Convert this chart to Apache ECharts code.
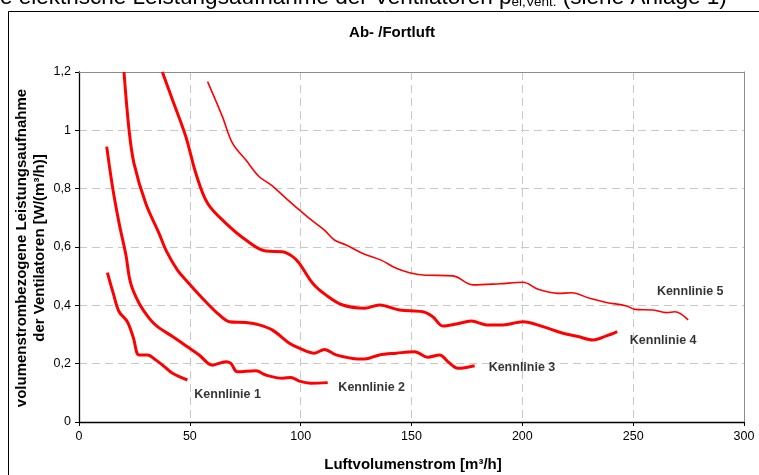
<!DOCTYPE html>
<html>
<head>
<meta charset="utf-8">
<script src="https://cdn.jsdelivr.net/npm/echarts@6/dist/echarts.min.js"></script>
<style>html,body{margin:0;padding:0;background:#fff}#c{width:759px;height:475px}</style>
</head>
<body>
<div id="c"></div>
<script>
// ---- data ----
const chartTitle = 'Ab- /Fortluft';
const xAxisName = 'Luftvolumenstrom [m³/h]';
const yAxisNameLines = ['volumenstrombezogene Leistungsaufnahme', 'der Ventilatoren [W/(m³/h)]'];
const xTicks = [0, 50, 100, 150, 200, 250, 300];
const yTicks = [0, 0.2, 0.4, 0.6, 0.8, 1.0, 1.2];
const seriesNames = ['Kennlinie 1', 'Kennlinie 2', 'Kennlinie 3', 'Kennlinie 4', 'Kennlinie 5'];

const kennlinie1 = [[12.8,0.512],[15.5,0.44],[18.1,0.378],[21.8,0.344],[24.5,0.29],[27.1,0.23],[30.9,0.23],[34.6,0.213],[38.5,0.19],[42.2,0.167],[48.9,0.144]];
const kennlinie2 = [[12.5,0.944],[15.1,0.807],[18.1,0.681],[21.1,0.575],[23.3,0.476],[27.1,0.407],[31.6,0.356],[35.4,0.327],[42.2,0.293],[48.9,0.258],[54.2,0.23],[60.2,0.195],[66.3,0.207],[68.5,0.201],[71.5,0.172],[79.8,0.176],[84.3,0.161],[91.9,0.15],[95.6,0.153],[99.4,0.14],[104.5,0.133],[112.2,0.135]];
const kennlinie3 = [[20.3,1.2],[22.6,1.0],[24.8,0.887],[30.1,0.75],[36.1,0.647],[39.5,0.585],[44.5,0.52],[48.9,0.481],[57.2,0.412],[63.3,0.367],[67.8,0.344],[75.3,0.341],[81.3,0.333],[87.3,0.315],[94.9,0.27],[99.4,0.253],[106.2,0.236],[110.7,0.249],[116,0.23],[123.5,0.218],[128.8,0.216],[135.5,0.23],[143.1,0.236],[151.4,0.241],[157.4,0.222],[162.7,0.23],[166.4,0.207],[171,0.184],[174.7,0.187],[178.5,0.193]];
const kennlinie4 = [[37.6,1.2],[42.2,1.104],[48.2,0.978],[52.7,0.853],[58.0,0.75],[66.3,0.681],[75.3,0.624],[84.3,0.586],[91.9,0.584],[96.4,0.567],[99.4,0.544],[105.4,0.476],[111.5,0.435],[119,0.401],[128.8,0.39],[135.5,0.401],[144.6,0.384],[155.1,0.378],[159.6,0.361],[164.1,0.329],[170.2,0.336],[177,0.346],[183.8,0.333],[191.3,0.333],[200.3,0.344],[209.3,0.327],[217.6,0.306],[225.1,0.293],[231.9,0.281],[237.9,0.295],[242.8,0.31]];
const kennlinie5 = [[58.0,1.167],[64.7,1.047],[69.3,0.955],[75.3,0.898],[81.3,0.841],[86.6,0.813],[93.4,0.767],[99.4,0.727],[103.9,0.698],[110.7,0.658],[115.2,0.624],[120.5,0.607],[128,0.578],[136.3,0.555],[143.1,0.527],[149.1,0.512],[155.1,0.504],[168.7,0.501],[177.7,0.47],[189.8,0.474],[200.3,0.479],[207.1,0.455],[216.1,0.441],[222.2,0.443],[230.4,0.424],[237.9,0.41],[247,0.398],[250.8,0.386],[259,0.384],[265,0.375],[268.8,0.378],[274.8,0.35]];
const curves = [kennlinie1, kennlinie2, kennlinie3, kennlinie4, kennlinie5];
// label anchor positions (left edge of each label)
const labelPos = [[52,0.093],[117,0.117],[184.8,0.187],[248.5,0.278],[260.7,0.446]];

// ---- chart ----
const chart = echarts.init(document.getElementById('c'), null, {renderer: 'canvas'});
const FONT = 'Liberation Sans, Arial, sans-serif';
const lineWidths = [3, 3, 3, 3, 1.6];
const series = curves.map((d, i) => ({
  name: seriesNames[i], type: 'line', data: d, smooth: 0.35, showSymbol: false, symbol: 'none',
  lineStyle: {color: '#ff0000', width: lineWidths[i]}, z: 3, animation: false
}));
series.push({
  type: 'scatter', symbolSize: 0, silent: true, animation: false, z: 4,
  data: labelPos.map((p, i) => ({value: p, name: seriesNames[i]})),
  label: {show: true, position: 'right', distance: 0, formatter: '{b}', color: '#000', fontFamily: FONT, fontWeight: 'bold', fontSize: 12.5}
});

chart.setOption({
  backgroundColor: '#fff',
  animation: false,
  grid: {left: 79, right: 15, top: 72, bottom: 53, show: false},
  xAxis: [{
    type: 'value', min: xTicks[0], max: xTicks[xTicks.length - 1], interval: 50,
    axisLine: {show: true, lineStyle: {color: '#000', width: 1.3}},
    axisTick: {show: true, length: 4, lineStyle: {color: '#000'}},
    axisLabel: {color: '#000', fontFamily: FONT, fontSize: 12.5, margin: 8},
    splitLine: {show: true, showMinLine: false, showMaxLine: false, lineStyle: {color: '#c8c8c8', type: [8, 5], width: 1}}
  }, {
    type: 'value', position: 'top', min: 0, max: 300,
    axisLine: {show: true, onZero: false, lineStyle: {color: '#8c8c8c', width: 1}},
    axisTick: {show: false}, axisLabel: {show: false}, splitLine: {show: false}
  }],
  yAxis: [{
    type: 'value', min: yTicks[0], max: yTicks[yTicks.length - 1], interval: 0.2,
    axisLine: {show: true, lineStyle: {color: '#000', width: 1.3}},
    axisTick: {show: true, length: 4, lineStyle: {color: '#000'}},
    axisLabel: {color: '#000', fontFamily: FONT, fontSize: 12.5, margin: 8,
      formatter: v => (Math.round(v * 10) / 10).toString().replace('.', ',')},
    splitLine: {show: true, showMinLine: false, showMaxLine: false, lineStyle: {color: '#c8c8c8', type: [8, 5], width: 1}}
  }, {
    type: 'value', position: 'right', min: 0, max: 1.2,
    axisLine: {show: true, onZero: false, lineStyle: {color: '#8c8c8c', width: 1}},
    axisTick: {show: false}, axisLabel: {show: false}, splitLine: {show: false}
  }],
  series: series,
  graphic: [
    {type: 'rect', shape: {x: 8.5, y: 11.5, width: 800, height: 600}, style: {fill: null, stroke: '#000', lineWidth: 1}, z: 0, silent: true},
    {type: 'text', x: 0, y: 9, style: {
      text: 'e elektrische Leistungsaufnahme der Ventilatoren p{s|el,Vent.} (siehe Anlage 1)',
      font: '22.5px ' + FONT, fill: '#000', verticalAlign: 'bottom',
      rich: {s: {fontSize: 13.5, fontFamily: FONT, verticalAlign: 'bottom'}}
    }, silent: true},
    {type: 'text', x: 392, y: 33, style: {text: chartTitle, font: 'bold 15px ' + FONT, fill: '#000', align: 'center', verticalAlign: 'middle'}},
    {type: 'text', x: 413, y: 465, style: {text: xAxisName, font: 'bold 15px ' + FONT, fill: '#000', align: 'center', verticalAlign: 'middle'}},
    {type: 'text', x: 31, y: 248, rotation: Math.PI / 2, style: {text: yAxisNameLines.join('\n'), font: 'bold 15px ' + FONT, lineHeight: 18, fill: '#000', align: 'center', verticalAlign: 'middle'}}
  ]
});
</script>
</body>
</html>
